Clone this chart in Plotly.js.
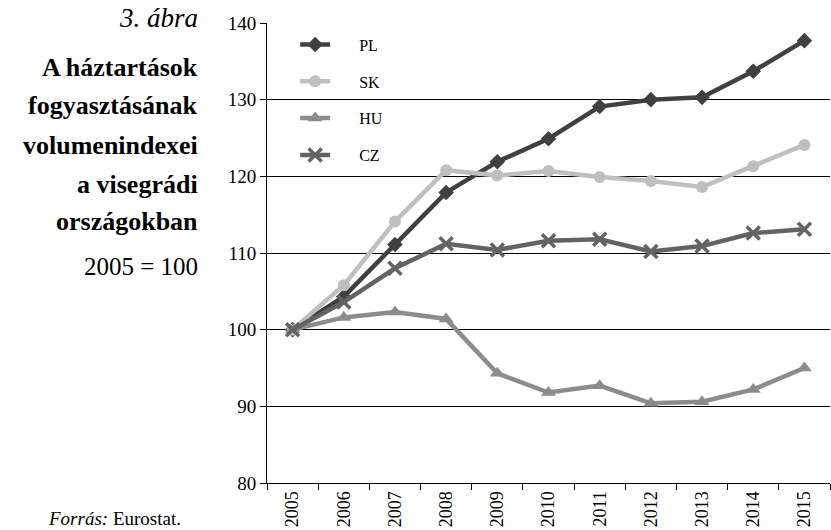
<!DOCTYPE html>
<html>
<head>
<meta charset="utf-8">
<script src="https://cdn.plot.ly/plotly-3.0.1.min.js"></script>
<style>html,body{margin:0;padding:0;background:#fff}#chart{width:831px;height:530px}</style>
</head>
<body>
<div id="chart"></div>
<script>
const years = ["2005","2006","2007","2008","2009","2010","2011","2012","2013","2014","2015"];
const PL = [100, 104.3, 111.1, 117.9, 121.9, 124.9, 129.1, 130.0, 130.3, 133.7, 137.7];
const SK = [100, 105.8, 114.1, 120.8, 120.1, 120.7, 119.9, 119.4, 118.6, 121.3, 124.1];
const HU = [100, 101.6, 102.3, 101.4, 94.3, 91.8, 92.7, 90.4, 90.6, 92.2, 95.0];
const CZ = [100, 103.6, 108.0, 111.2, 110.4, 111.6, 111.8, 110.2, 110.9, 112.6, 113.1];
const seriesNames = ["PL","SK","HU","CZ"];

const serif = "Liberation Serif";
const traces = [
  {y: PL, name: seriesNames[0], color: "#404040", symbol: "diamond", size: 12, lw: 0},
  {y: SK, name: seriesNames[1], color: "#bfbfbf", symbol: "circle", size: 12, lw: 0},
  {y: HU, name: seriesNames[2], color: "#8c8c8c", symbol: "triangle-up", size: 13, lw: 0},
  {y: CZ, name: seriesNames[3], color: "#636363", symbol: "x-thin", size: 13, lw: 3.5}
].map((t, i) => ({
  type: "scatter", mode: "lines+markers", x: years, y: t.y, name: "\u00a0\u00a0\u00a0\u00a0\u00a0\u00a0" + t.name,
  legendgroup: "g" + i,
  line: {color: t.color, width: 4.5},
  marker: {color: t.color, symbol: t.symbol, size: t.size, line: {color: t.color, width: t.lw}}
}));

const ann = [];
function py(p) { return (483 - p) / 460; }
function A(text, y, size, right) {
  ann.push({xref: "paper", yref: "paper", x: ((right || 200) - 267) / 563, y: py(y), xanchor: "right", yanchor: "middle",
    text: text, showarrow: false, font: {family: serif, size: size, color: "#000"}});
}
A("<i>3. ábra</i>", 18, 27);
A("<b>A háztartások</b>", 67, 26);
A("<b>fogyasztásának</b>", 106, 26);
A("<b>volumenindexei</b>", 145, 26);
A("<b>a visegrádi</b>", 184, 26);
A("<b>országokban</b>", 222, 26);
A("2005 = 100", 266, 25);
A("<i>Forrás:</i> Eurostat.", 518, 19, 183);

const layout = {
  width: 831, height: 530,
  margin: {l: 267, r: 1, t: 23, b: 47},
  paper_bgcolor: "#fff", plot_bgcolor: "#fff",
  font: {family: serif, color: "#000"},
  showlegend: true,
  legend: {x: 0.05, y: 0.99, xanchor: "left", yanchor: "top", bgcolor: "rgba(0,0,0,0)",
    font: {family: serif, size: 16, color: "#000"}, tracegroupgap: 13, traceorder: "grouped"},
  xaxis: {type: "category", tickangle: -90, tickfont: {family: serif, size: 18, color: "#000"},
    ticks: "outside", tickson: "boundaries", ticklen: 6, tickcolor: "#000", showgrid: false,
    showline: true, linecolor: "#000", linewidth: 1, zeroline: false, range: [-0.5, 10.5], fixedrange: true},
  yaxis: {range: [80, 140], dtick: 10, tickfont: {family: serif, size: 19, color: "#000"},
    ticks: "outside", ticklen: 6, tickcolor: "#000", showgrid: true, gridcolor: "#000", gridwidth: 1,
    showline: true, linecolor: "#000", linewidth: 1, zeroline: false, fixedrange: true},
  annotations: ann
};
Plotly.newPlot("chart", traces, layout, {displayModeBar: false, staticPlot: true});
</script>
</body>
</html>
